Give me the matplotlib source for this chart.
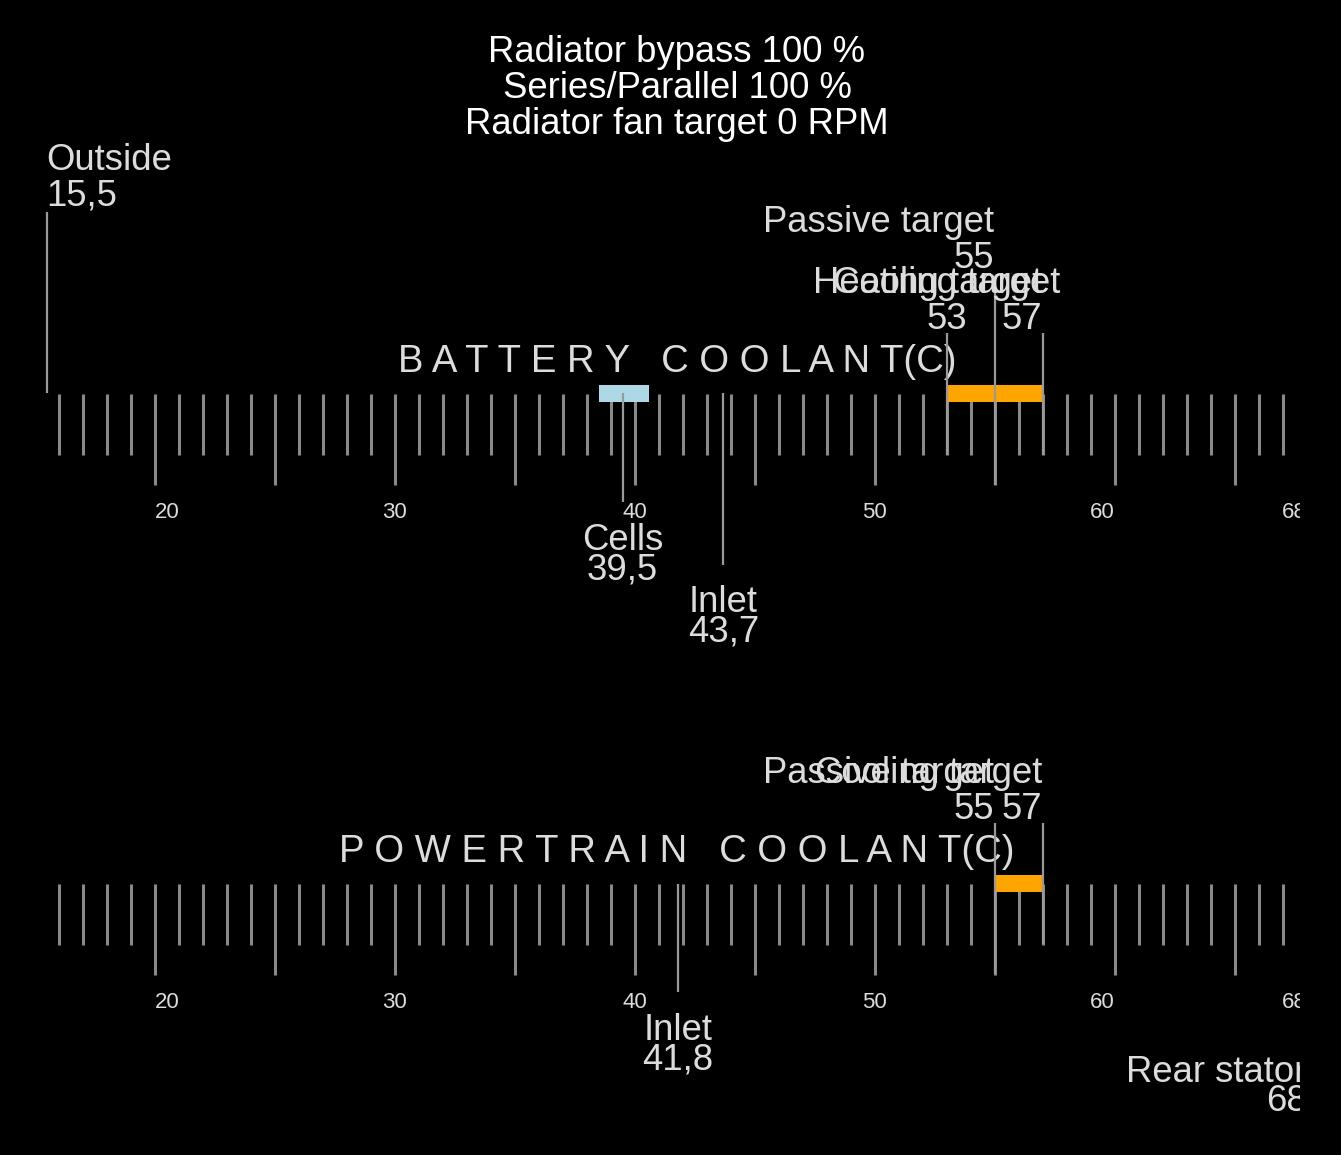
import matplotlib
matplotlib.use('Agg')
import matplotlib.pyplot as plt
import matplotlib.transforms as mtransforms
import numpy as np

# --- data ---
title_lines = ['Radiator bypass 100 %', 'Series/Parallel 100 %', 'Radiator fan target 0 RPM']
scale_names = ['BATTERY COOLANT', 'POWERTRAIN COOLANT']
unit = '(C)'
tick_values = np.arange(16, 69)
tick_label_values = [20, 30, 40, 50, 60, 68]

battery_names = ['Outside', 'Passive target', 'Cooling target', 'Heating target', 'Cells', 'Inlet']
battery_values = [15.5, 55, 53, 57, 39.5, 43.7]
battery_target_range = [53, 57]
battery_cells_range = [38.5, 40.6]

powertrain_names = ['Passive target', 'Cooling target', 'Inlet', 'Rear stator']
powertrain_values = [55, 57, 41.8, 68]
powertrain_target_range = [55, 57]

# --- layout (pixel rows, anchors) ---
# per marker: side, name baseline, line top, line bottom, text anchor
battery_layout = [
    ('up', 170, 212, 393, 'left'),
    ('up', 232, 290, 485, 'right'),
    ('up', 293, 333, 455, 'center'),
    ('up', 293, 333, 455, 'right'),
    ('down', 550, 393, 502, 'center'),
    ('down', 612, 393, 565, 'center'),
]
powertrain_layout = [
    ('up', 783, 823, 974, 'right'),
    ('up', 783, 823, 944, 'right'),
    ('down', 1040, 884, 992, 'center'),
    ('down', 1082, 884, 1034, 'right'),
]
tick_label_ha = ['left', 'center', 'center', 'center', 'right', 'right']

W, H = 1341, 1155
PLOT_W = 1300
PPU = 24.0
X20 = 154.5

FONT = ['Liberation Sans', 'DejaVu Sans']
TXT = '#dcdcdc'
TICK = '#8a8a8a'
LINE = '#9a9a9a'
FS = 26.3

fig = plt.figure(figsize=(W / 100, H / 100), dpi=100, facecolor='black')
ax = fig.add_axes([0, 0, PLOT_W / W, 1])
ax.set_facecolor('black')
lo = 20 - X20 / PPU
ax.set_xlim(lo, lo + PLOT_W / PPU)
ax.set_ylim(H, 0)
ax.axis('off')

ax_x = mtransforms.blended_transform_factory(ax.transAxes, ax.transData)

for i, line in enumerate(title_lines):
    ax.text(677 / PLOT_W, 62 + 36 * i, line, transform=ax_x, ha='center', va='baseline',
            fontsize=FS, color='white', family=FONT)


def spaced(s):
    return '   '.join(' '.join(w) for w in s.split(' '))


def draw_scale(name, off, ranges, names, values, layout):
    top, minor_bot, major_bot = 394 + off, 455 + off, 485 + off
    minor = [v for v in tick_values if v % 5 != 0]
    major = [v for v in tick_values if v % 5 == 0]
    ax.vlines(minor, top, minor_bot, color=TICK, lw=2.2, zorder=1)
    ax.vlines(major, top, major_bot, color=TICK, lw=2.2, zorder=1)
    for v, ha in zip(tick_label_values, tick_label_ha):
        ax.text(v, 518 + off, str(v), ha=ha, va='baseline', fontsize=16,
                color=TXT, family=FONT, clip_on=True)
    ax.text(677 / PLOT_W, 372 + off, spaced(name) + unit, transform=ax_x,
            ha='center', va='baseline', fontsize=27.5, color=TXT, family=FONT)
    for (a, b), col in ranges:
        ax.fill_between([a, b], 385 + off, 402 + off, color=col, lw=0, zorder=2)
    for n, v, (side, yb, lt, lb, ha) in zip(names, values, layout):
        ax.vlines(v, lt, lb, color=LINE, lw=1.6, zorder=3)
        label = str(v).replace('.', ',')
        if label.endswith(',0'):
            label = label[:-2]
        step = 36 if side == 'up' else 29
        ax.text(v, yb, n, ha=ha, va='baseline', fontsize=FS, color=TXT,
                family=FONT, clip_on=True, zorder=4)
        ax.text(v, yb + step, label, ha=ha, va='baseline', fontsize=FS,
                color=TXT, family=FONT, clip_on=True, zorder=4)


draw_scale(scale_names[0], 0,
           [(battery_cells_range, '#add8e6'), (battery_target_range, '#ffa500')],
           battery_names, battery_values, battery_layout)
draw_scale(scale_names[1], 490,
           [(powertrain_target_range, '#ffa500')],
           powertrain_names, powertrain_values, powertrain_layout)

fig.savefig('out.png', dpi=100, facecolor='black')
